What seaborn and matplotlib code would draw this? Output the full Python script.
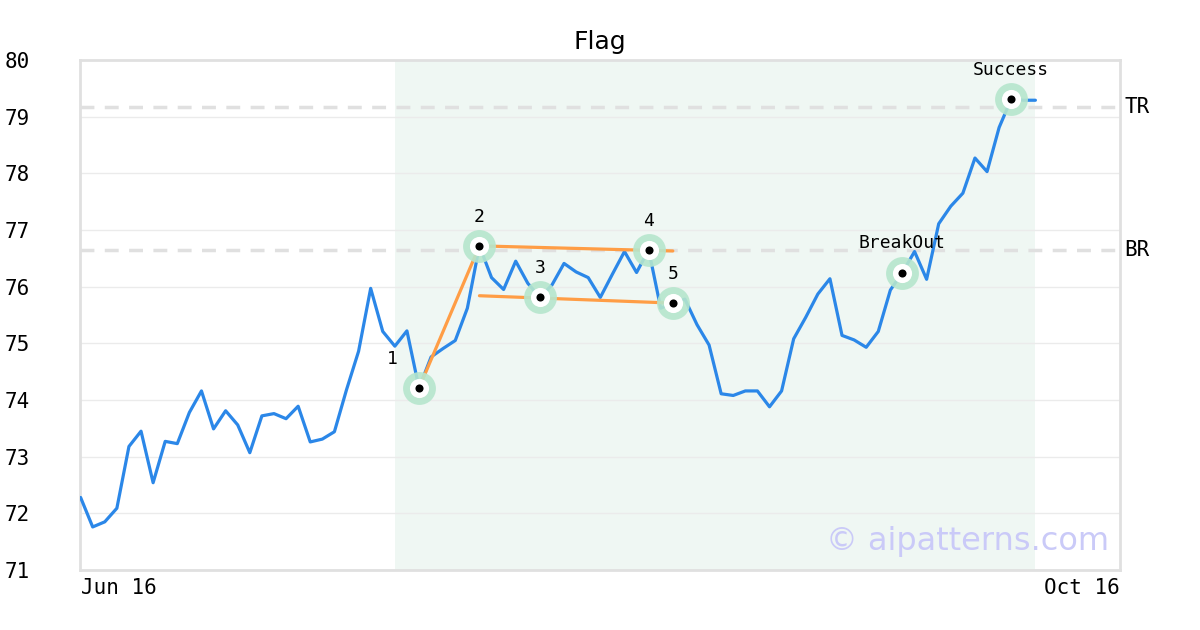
import pandas as pd
import seaborn as sns
import matplotlib
matplotlib.use('Agg')
import matplotlib.pyplot as plt

# price series (one point per trading day)
price = [72.28, 71.76, 71.85, 72.09, 73.18, 73.45, 72.54, 73.27, 73.23, 73.78,
         74.16, 73.49, 73.81, 73.56, 73.07, 73.72, 73.76, 73.67, 73.89, 73.26,
         73.31, 73.44, 74.18, 74.86, 75.97, 75.21, 74.95, 75.22, 74.21, 74.76,
         74.91, 75.05, 75.62, 76.72, 76.16, 75.95, 76.45, 76.06, 75.81, 76.03,
         76.41, 76.26, 76.16, 75.81, 76.22, 76.62, 76.25, 76.65, 75.62, 75.71,
         75.78, 75.33, 74.97, 74.11, 74.08, 74.16, 74.16, 73.88, 74.16, 75.08,
         75.46, 75.87, 76.14, 75.14, 75.06, 74.93, 75.21, 75.94, 76.25, 76.62,
         76.13, 77.11, 77.42, 77.65, 78.27, 78.03, 78.81, 79.31, 79.29, 79.29]

# pattern points
pt_labels = ['1', '2', '3', '4', '5', 'BreakOut', 'Success']
pt_idx = [28, 33, 38, 47, 49, 68, 77]

# flag lines
pole_x, pole_y = [28, 33], [74.21, 76.72]
upper_x, upper_y = [33, 49], [76.72, 76.63]
lower_x, lower_y = [33, 49], [75.84, 75.71]

tr_level = 79.17
br_level = 76.65
shade_start, shade_end = 26, 79
x_labels = ['Jun 16', 'Oct 16']

df = pd.DataFrame({'day': range(len(price)), 'price': price})

sns.set_style('white')
plt.rcParams['font.family'] = ['DejaVu Sans']
plt.rcParams['text.color'] = 'black'
plt.rcParams['xtick.color'] = 'black'
plt.rcParams['ytick.color'] = 'black'
mono = 'DejaVu Sans Mono'

fig = plt.figure(figsize=(12, 6.3), dpi=100)
ax = fig.add_axes([80 / 1200, 60 / 630, 1040 / 1200, 510 / 630])

ax.axvspan(shade_start, shade_end, color='#eff7f3', zorder=0, lw=0)
for lvl in range(71, 80):
    ax.axhline(lvl, color='#ebebeb', lw=1, zorder=1)
ax.axhline(tr_level, color='#e0e0e0', lw=2.5, ls=(0, (4, 3)), zorder=1)
ax.axhline(br_level, color='#e0e0e0', lw=2.5, ls=(0, (4, 3)), zorder=1)

sns.lineplot(data=df, x='day', y='price', ax=ax, color='#2b87e8', lw=2.3, zorder=3)

orange = '#ff9d45'
ax.plot(pole_x, pole_y, color=orange, lw=2.3, zorder=4)
ax.plot(upper_x, upper_y, color=orange, lw=2.3, zorder=4)
ax.plot(lower_x, lower_y, color=orange, lw=2.3, zorder=4)

px = pt_idx
py = [price[i] for i in pt_idx]
ax.scatter(px, py, s=560, color='#b6e6cd', alpha=0.9, lw=0, zorder=5)
ax.scatter(px, py, s=190, color='white', lw=0, zorder=6)
ax.scatter(px, py, s=34, color='black', lw=0, zorder=7)

for lab, x, y in zip(pt_labels, px, py):
    dx = -19 if lab == '1' else 0
    ax.annotate(lab, (x, y), xytext=(dx, 21), textcoords='offset points',
                ha='center', va='center', fontsize=13, family=mono, zorder=8)

ax.text(1.004, tr_level, 'TR', transform=ax.get_yaxis_transform(), ha='left',
        va='center', fontsize=15, family=mono)
ax.text(1.004, br_level, 'BR', transform=ax.get_yaxis_transform(), ha='left',
        va='center', fontsize=15, family=mono)

ax.text(0.99, 0.055, '\u00a9 aipatterns.com', transform=ax.transAxes, ha='right',
        va='center', fontsize=23, color='#cacaf8', zorder=2)

ax.set_xlim(-0.05, 86)
ax.set_ylim(71, 80)
ax.set_yticks(range(71, 81))
ax.set_yticklabels([str(v) for v in range(71, 81)], family=mono, fontsize=15)
for lbl in ax.get_yticklabels():
    lbl.set_horizontalalignment('left')
ax.tick_params(axis='y', length=0, pad=54)

ax.set_xticks([0, 86])
ax.set_xticklabels(x_labels, family=mono, fontsize=15)
xl = ax.get_xticklabels()
xl[0].set_horizontalalignment('left')
xl[1].set_horizontalalignment('right')
ax.tick_params(axis='x', length=0, pad=6)

ax.set_xlabel('')
ax.set_ylabel('')
ax.set_title('Flag', fontsize=18, pad=8, color='black')

for sp in ax.spines.values():
    sp.set_color('#e0e0e0')
    sp.set_linewidth(2)

fig.savefig('out.png', dpi=100)
